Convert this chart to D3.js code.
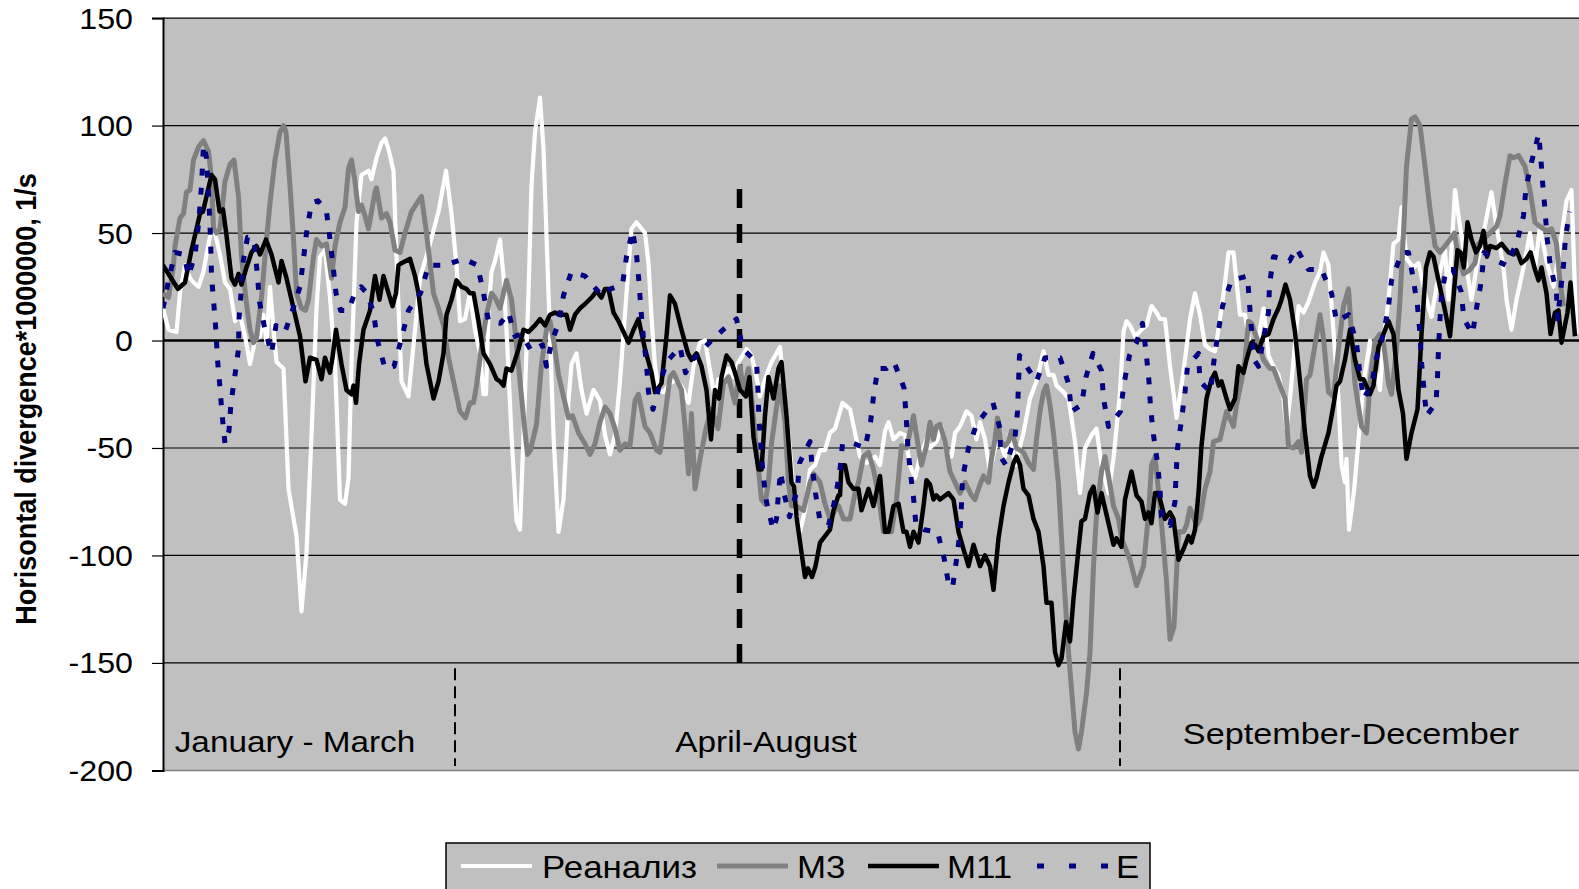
<!DOCTYPE html>
<html><head><meta charset="utf-8">
<script src="https://cdn.jsdelivr.net/npm/d3@7"></script>
<style>body{margin:0;background:#fff}svg{display:block}text{font-family:"Liberation Sans",Arial,sans-serif}</style>
</head><body><svg id="c" width="1579" height="889"></svg>
<script>
// ---- data ----
const yTicks=[150,100,50,0,-50,-100,-150,-200];
const seriesNames=["Реанализ","M3","M11","E"];
const periodLabels=["January - March","April-August","September-December"];
const periodLabelPos=[[26.4,-191.3],[120.6,-191.3],[237.6,-187.8]];
const periodDividers=[58.4,191.4];
const seasonBoundary=115.3;
const yTitle="Horisontal divergence*1000000, 1/s";

const reanalysis=[[0,15],[1.1,5],[2.7,4],[3.4,22],[4.4,35],[5.4,29],[6.1,27],[7.1,25],[8.1,32],[8.7,40],[9.7,52],[10.4,50],[11.4,40],[12.4,27],[13.4,24],[14.4,9],[15.4,12],[16.4,2],[17.4,-11],[18.4,0],[19.4,2],[20.1,12],[20.7,-1],[21.4,25],[22.1,5],[22.7,-10],[24.1,-13],[25.1,-69],[26.7,-91],[27.7,-126],[28.7,-99],[29.7,-44],[30.7,15],[31.4,39],[32.4,42],[33.4,20],[34.4,-10],[35.4,-74],[36.4,-76],[37.1,-64],[37.7,-11],[38.7,55],[39.7,77],[41.1,79],[41.7,75],[42.7,85],[43.7,92],[44.4,94],[45.1,89],[46.1,79],[46.7,39],[47.7,-19],[49.1,-26],[50.4,5],[51.4,29],[53.4,45],[55.1,60],[56.6,79],[57.7,59],[58.7,35],[59.4,9],[60.4,10],[61.4,22],[62.4,5],[63.4,-6],[64.1,-25],[64.6,-25],[65.1,14],[65.7,32],[66.4,37],[67.4,47],[68.1,30],[68.7,5],[69.7,-44],[70.7,-84],[71.4,-88],[72.1,-44],[73.1,22],[73.7,72],[74.4,97],[75.4,113],[76.1,89],[77.1,22],[78.1,-44],[79.1,-89],[80.1,-74],[81.1,-28],[81.7,-11],[82.7,-6],[83.7,-23],[84.7,-34],[86.1,-23],[87.4,-28],[88.4,-44],[89.4,-53],[90.4,-44],[91.4,-19],[92.7,22],[93.7,52],[94.7,55],[96.4,50],[97.1,36],[97.7,11],[98.4,-12],[99.1,-23],[100.1,-24],[101.4,-20],[102.7,-18],[104.1,-23],[105.1,-29],[106.1,-12],[107.4,-1],[108.4,0],[109.7,-18],[110.4,-27],[111.1,-18],[112.1,-17],[113.1,-13],[114.1,-17],[115.1,-10],[116.7,-4],[117.7,-7],[118.7,-17],[119.4,-26],[120.4,-18],[121.7,-10],[123.4,-3],[123.7,-10],[124.4,-29],[125.4,-51],[126.4,-79],[127.4,-89],[128.4,-79],[129.4,-60],[130.4,-58],[131.4,-51],[132.4,-51],[133.4,-43],[134.4,-41],[135.9,-29],[137.4,-32],[138.4,-43],[139.4,-54],[140.7,-57],[142.4,-54],[143.4,-58],[144.4,-42],[145.1,-38],[146.1,-46],[147.4,-43],[148.4,-44],[149.4,-58],[150.4,-64],[151.4,-54],[152.7,-46],[153.4,-50],[154.7,-47],[155.7,-40],[156.7,-52],[157.7,-54],[158.4,-43],[159.4,-40],[160.7,-33],[161.7,-35],[162.7,-46],[163.4,-38],[164.4,-46],[165.4,-61],[166.4,-50],[167.4,-47],[168.4,-54],[169.4,-43],[170.4,-58],[172.1,-43],[173.4,-27],[174.7,-19],[176.1,-5],[177.1,-16],[178.1,-16],[178.7,-21],[180.1,-24],[181.1,-27],[182.4,-47],[183.4,-71],[184.4,-50],[185.7,-44],[186.7,-41],[187.7,-58],[189.1,-71],[190.1,-55],[191.4,-24],[192.1,4],[192.7,9],[193.4,7],[194.4,2],[195.7,5],[196.7,7],[197.7,16],[198.7,13],[199.4,10],[200.4,10],[201.4,-12],[202.4,-30],[202.7,-36],[203.7,-21],[204.6,-5],[205.4,10],[206.4,22],[207.4,12],[208.4,-2],[209.4,-4],[210.4,-5],[211.4,10],[212.4,27],[213.1,41],[214.1,41],[215.4,12],[216.4,12],[217.4,-2],[218.7,-4],[220.1,15],[221.1,-7],[222.1,-12],[223.1,-16],[224.1,-27],[224.7,-41],[225.4,-27],[227.1,16],[228.1,13],[229.1,18],[230.4,27],[231.4,32],[232.1,41],[233.1,35],[234.1,4],[235.1,-27],[235.7,-58],[236.4,-66],[236.7,-55],[237.2,-88],[238.2,-70],[240.1,-20],[241.4,0],[243.4,-23],[244.1,0],[245.1,19],[246.1,45],[247.1,47],[247.7,62],[248.7,38],[250.1,34],[251.1,36],[252.7,19],[253.7,11],[254.7,25],[256.4,42],[257.1,19],[257.7,42],[258.4,70],[259.4,53],[260.7,34],[261.7,19],[262.7,34],[264.1,50],[265.7,69],[266.7,53],[268.1,34],[268.7,19],[269.7,5],[270.7,19],[272.1,34],[273.4,50],[274.4,34],[275.4,53],[276.7,37],[278.1,25],[279.4,44],[280.7,65],[281.7,70],[282.7,3]];

const m3=[[0,22],[1.1,20],[2.1,35],[2.4,44],[3.4,57],[4.1,59],[4.7,69],[5.4,70],[6.1,84],[7.1,90],[8.1,93],[9.1,88],[9.7,75],[10.1,52],[10.7,50],[11.4,52],[12.4,74],[13.4,82],[14.2,84],[15.1,67],[15.7,39],[16.6,19],[17.4,5],[18.1,-1],[18.7,1],[19.7,20],[20.7,47],[21.4,64],[22.4,84],[23.4,97],[24.1,100],[24.6,97],[25.4,72],[26.1,47],[26.7,22],[27.7,15],[28.5,14],[29.1,19],[30.1,39],[30.7,47],[31.7,44],[32.7,45],[33.7,29],[34.4,44],[35.4,55],[36.4,62],[37.1,80],[37.7,84],[38.4,74],[39.1,60],[39.7,63],[40.4,58],[41.1,52],[42.4,69],[42.7,71],[43.7,57],[44.7,59],[45.4,55],[46.4,42],[47.4,41],[48.4,50],[49.7,60],[51.1,65],[51.7,67],[52.7,50],[54.1,22],[55.1,15],[56.1,7],[57.1,-8],[58.1,-19],[59.4,-33],[60.5,-36],[61.4,-29],[62.1,-29],[62.7,-21],[63.7,-3],[64.7,12],[65.7,22],[66.4,20],[67.4,15],[68.7,28],[69.7,19],[70.4,5],[71.4,-19],[72.2,-38],[72.9,-53],[73.5,-51],[74.7,-39],[75.7,-11],[76.7,5],[77.4,9],[78.2,-1],[79.1,-16],[80.1,-26],[81.1,-36],[81.9,-35],[83.1,-43],[84.4,-48],[85.4,-53],[86.4,-48],[87.4,-38],[88.4,-31],[89.4,-34],[90.4,-41],[91.4,-51],[92.4,-48],[93.4,-49],[94.4,-28],[95.1,-25],[96.4,-40],[97.4,-43],[98.7,-51],[99.4,-52],[100.4,-35],[101.4,-17],[102.1,-15],[103.1,-20],[103.7,-23],[104.4,-40],[105.1,-62],[105.7,-34],[106.4,-69],[107.4,-55],[108.7,-40],[109.7,-32],[111,-41],[112.1,-20],[113.1,-17],[114.4,-29],[115.4,-12],[116.1,-23],[117.1,-13],[117.7,-26],[118.7,-51],[119.7,-74],[120.4,-76],[121.1,-66],[121.7,-48],[122.7,-31],[123.4,-21],[124.4,-38],[125.1,-66],[125.7,-77],[126.7,-77],[128.1,-79],[129.4,-66],[130.1,-62],[131.4,-66],[132.4,-76],[133.4,-83],[134.4,-79],[135.1,-77],[136.1,-83],[137.4,-83],[138.4,-71],[139.1,-66],[140.1,-54],[141.1,-52],[142.1,-60],[143.1,-72],[144.1,-89],[145.7,-89],[146.7,-74],[147.7,-49],[148.7,-50],[150.1,-35],[151.1,-50],[151.7,-58],[152.7,-49],[153.4,-38],[154.1,-46],[154.7,-40],[155.4,-39],[156.4,-47],[157.4,-61],[158.4,-66],[159.4,-71],[160.4,-66],[161.7,-72],[162.4,-74],[163.4,-67],[164.1,-63],[165.1,-66],[165.7,-55],[166.4,-46],[166.9,-36],[167.5,-47],[168.4,-49],[169.1,-47],[169.7,-42],[170.7,-50],[172.1,-52],[173.1,-57],[174.1,-60],[174.7,-46],[175.4,-33],[176.1,-24],[176.7,-21],[177.4,-30],[178.1,-43],[179.1,-67],[180.1,-108],[181.1,-145],[182.4,-182],[183.1,-190],[183.7,-182],[184.7,-164],[185.4,-145],[186.1,-105],[186.7,-81],[187.7,-61],[188.4,-54],[189.1,-63],[190.1,-77],[191.1,-83],[191.7,-92],[193.4,-102],[194.7,-114],[196.1,-105],[197.1,-81],[197.7,-58],[198.4,-54],[199.4,-77],[200.7,-112],[201.4,-139],[202.2,-133],[203.1,-89],[204.1,-89],[204.7,-86],[205.4,-78],[206.7,-86],[207.4,-83],[208.4,-69],[209.4,-61],[210.1,-47],[211.4,-46],[212.7,-33],[214.1,-40],[214.7,-30],[215.7,-19],[216.4,-9],[217.1,9],[217.7,8],[219.1,-1],[220.1,-9],[221.4,-13],[222.1,-13],[223.4,-21],[224.4,-27],[225.1,-49],[226.1,-50],[227.1,-47],[227.7,-52],[228.7,-18],[229.4,-16],[230.4,-2],[231.4,12],[232.1,1],[233.1,-24],[234.1,-26],[235.1,-4],[236.1,16],[237.1,24],[237.7,3],[238.4,-20],[239.7,-40],[240.7,-43],[241.4,-20],[242.4,0],[243.4,3],[244.1,-1],[245.1,-20],[245.7,-25],[246.7,-4],[247.4,19],[248.1,50],[248.7,81],[249.7,103],[250.4,104],[251.4,100],[252.4,81],[253.4,61],[254.4,44],[255.4,41],[256.4,44],[257.4,47],[258.3,50],[259.1,38],[260.1,31],[261.4,33],[262.4,36],[263.1,45],[264.1,47],[265.4,50],[266.7,53],[267.4,58],[268.4,73],[269.4,86],[270.1,85],[271.1,86],[272.4,81],[273.4,70],[274.4,55],[275.4,53],[276.7,51],[277.7,52],[278.7,45],[279.4,27],[280.1,16]];

const m11=[[0,35],[3,24],[4.4,27],[5.7,42],[7.4,59],[8,60],[9.7,77],[10.4,75],[11.3,60],[12,61],[12.7,49],[13.7,29],[14.4,26],[15.1,31],[15.7,26],[16.7,34],[17.7,41],[18.7,44],[19.4,40],[20.6,47],[21.7,40],[23.1,27],[23.7,37],[24.7,29],[26.1,15],[27.4,2],[28.5,-19],[29.4,-8],[30.7,-9],[31.7,-18],[32.4,-8],[33.4,-15],[33.9,-8],[34.6,5],[35.7,-11],[36.7,-23],[37.7,-25],[38.1,-21],[38.6,-29],[39.2,-11],[40.1,5],[41.4,14],[42.4,30],[43.3,19],[44.1,30],[45.1,22],[45.9,16],[46.6,22],[47.1,35],[47.7,36],[49.4,38],[50.4,30],[51.1,22],[52.7,-11],[54.1,-27],[55.1,-19],[56.1,-6],[56.7,12],[57.7,19],[58.7,28],[59.7,25],[60.7,24],[61.4,22],[62.1,22],[63.1,9],[64.1,-6],[65.4,-11],[66.7,-18],[67.4,-19],[68.1,-21],[68.7,-13],[69.7,-14],[70.4,-9],[71.1,-4],[72.1,5],[73.1,4],[74.4,7],[75.4,10],[76.4,7],[77.4,12],[78.4,13],[79.4,12],[80.7,12],[81.4,5],[82.4,12],[83.4,15],[84.4,17],[85.7,20],[86.7,23],[87.7,20],[88.4,24],[89.1,24],[90.1,13],[91.1,9],[92.1,4],[93.1,-1],[94.1,5],[95.1,10],[96.4,-4],[97.7,-15],[98.4,-24],[99.7,-20],[100.7,2],[101.4,21],[102.4,17],[103.7,5],[105,-6],[105.7,-9],[106.7,-6],[107.7,-12],[108.7,-23],[109.6,-46],[110.4,-23],[111.2,-27],[111.7,-17],[112.7,-7],[113.7,-10],[114.4,-15],[115.4,-23],[116.6,-26],[117.3,-17],[118.1,-45],[119.1,-60],[119.7,-60],[120.4,-35],[121.1,-17],[122.1,-27],[123.1,-13],[123.7,-10],[124.7,-35],[125.7,-66],[126.2,-68],[126.7,-82],[127.6,-97],[128.4,-110],[129,-106],[129.8,-110],[130.5,-105],[131.4,-94],[132.4,-91],[133.4,-88],[134.1,-79],[135.1,-72],[135.4,-72],[135.7,-58],[136.4,-58],[137.1,-66],[138.1,-69],[139.1,-69],[139.7,-79],[141.1,-69],[142.1,-77],[143.4,-63],[144.4,-89],[145.1,-89],[146.1,-77],[147.1,-76],[148.1,-89],[148.7,-89],[149.4,-96],[150.1,-89],[151.1,-94],[152.1,-77],[152.7,-65],[153.4,-67],[154.1,-74],[154.7,-72],[155.4,-74],[157.1,-71],[158.1,-74],[159.1,-89],[160.1,-97],[161.1,-105],[162.1,-95],[163.4,-105],[164.4,-100],[165.4,-105],[166.1,-116],[167.1,-92],[168.1,-77],[169.1,-66],[170.1,-57],[170.7,-54],[171.4,-58],[172.1,-69],[173.1,-72],[174.1,-83],[175.1,-89],[176.1,-105],[176.7,-122],[177.7,-122],[178.4,-145],[179.1,-151],[179.7,-148],[180.6,-131],[181.4,-140],[182.1,-120],[183.1,-97],[183.7,-84],[184.4,-83],[185.4,-71],[186.1,-68],[186.9,-80],[187.7,-71],[188.7,-81],[190.1,-95],[190.7,-92],[191.7,-96],[192.4,-74],[193.7,-61],[194.7,-72],[195.7,-75],[196.4,-83],[197.1,-80],[197.7,-85],[198.4,-71],[199.1,-71],[200.4,-83],[201.4,-80],[202.1,-83],[203.1,-102],[204.1,-97],[205.1,-91],[205.7,-94],[206.4,-88],[207.1,-71],[207.7,-49],[208.7,-27],[209.7,-18],[210.4,-15],[211.1,-21],[211.7,-19],[212.7,-27],[213.4,-32],[214.4,-27],[215.1,-12],[216.1,-15],[216.7,-9],[217.7,-1],[218.4,-2],[219.1,-5],[220.1,2],[221.1,3],[222.1,10],[223.1,15],[223.7,19],[224.5,26],[225.4,19],[226.4,4],[227.4,-19],[228.4,-43],[229.4,-63],[230.1,-68],[230.7,-64],[231.7,-54],[233.1,-43],[234.1,-30],[234.7,-21],[235.4,-19],[236.4,-9],[237.4,5],[238.4,-9],[239.4,-18],[240.1,-18],[241.4,-25],[242.1,-21],[243.1,-3],[244.1,3],[245.1,9],[246.1,3],[247.1,-23],[248,-34],[248.7,-55],[249.7,-43],[250.9,-32],[251.7,3],[252.6,34],[253.4,41],[254.1,39],[255.1,28],[256.4,14],[257.4,2],[258.1,20],[258.9,42],[259.5,41],[260.2,34],[260.9,55],[261.7,47],[262.6,41],[263.4,44],[264.1,51],[264.8,39],[265.4,44],[266.7,43],[267.7,45],[269.1,41],[270.1,40],[270.7,42],[271.7,36],[272.7,38],[273.5,41],[274.4,33],[275.1,28],[275.7,34],[276.7,22],[277.5,3],[278.4,13],[279.1,14],[279.7,-1],[280.9,13],[281.5,27],[282.4,2]];

const e=[[0,15],[1.1,28],[2.4,41],[4.2,40],[5.1,30],[6.4,40],[7.1,54],[7.7,72],[8.1,91],[8.7,85],[9.1,68],[9.5,48],[9.7,30],[10.2,16],[10.6,4],[10.9,-9],[11.4,-22],[11.8,-34],[12.4,-48],[13.2,-42],[13.6,-29],[14.4,-16],[15.1,-4],[15.2,10],[15.6,22],[15.9,35],[16.9,48],[18.2,47],[18.9,30],[19.3,18],[20.4,5],[21.7,-6],[22.6,7],[24.4,4],[25.6,12],[27.4,25],[28.1,38],[28.7,50],[29.7,64],[31,65],[32.7,60],[33.4,47],[34,35],[34.6,22],[35.5,14],[37.1,14],[38.5,23],[39.6,25],[40.8,22],[42.1,13],[42.9,0],[44.4,-13],[46.2,-12],[47.7,1],[49.1,14],[51.5,22],[53.1,35],[56.4,35],[60.1,38],[62.9,35],[64.1,22],[65.1,9],[67.5,8],[69.1,13],[70.4,2],[71.7,3],[73.7,-5],[75.9,-2],[76.7,-12],[77.7,-1],[79.1,8],[80.1,21],[81.7,32],[84.4,30],[87.7,21],[89.5,24],[91.9,26],[92.7,39],[93.9,51],[94.7,40],[95.2,27],[95.6,14],[96.1,1],[96.7,-11],[97.1,-24],[98,-32],[99.4,-20],[100.7,-10],[103.4,-3],[104.5,-15],[105.9,-9],[109.7,0],[112.5,6],[114.7,10],[116,-4],[118.7,-10],[119,-23],[119.2,-37],[119.6,-50],[120,-62],[120.7,-75],[122,-88],[122.7,-83],[123.1,-71],[123.5,-61],[124.3,-72],[125.3,-82],[126.9,-69],[127.3,-57],[129.4,-47],[129.8,-58],[130.5,-71],[131.4,-84],[133.1,-86],[134.5,-73],[135.4,-60],[135.9,-48],[138.2,-48],[140.4,-50],[141.5,-38],[142.2,-24],[143,-13],[144.7,-13],[146.2,-10],[148.2,-22],[148.6,-34],[148.9,-47],[149.4,-60],[150.1,-73],[150.6,-86],[152.2,-88],[154.9,-89],[156.2,-101],[157.1,-113],[157.9,-115],[158.7,-102],[159.4,-89],[159.7,-76],[159.9,-64],[161.1,-50],[162.7,-39],[166,-29],[167.4,-41],[167.5,-54],[168.6,-58],[170.4,-45],[170.9,-33],[171.1,-20],[171.3,-7],[172.7,-12],[174.7,-19],[176.4,-8],[179.4,-8],[181.1,-20],[181.7,-33],[183.7,-30],[184.6,-17],[186,-6],[187.7,-14],[188.1,-27],[189.1,-40],[191.5,-33],[192.2,-20],[193.3,-7],[194.7,-1],[195.9,8],[196.6,-5],[197.2,-19],[197.5,-31],[198.1,-44],[198.9,-57],[199.4,-69],[199.7,-82],[201.4,-86],[202.4,-75],[202.6,-63],[202.9,-50],[203.7,-37],[204.4,-24],[204.9,-12],[207.1,-6],[207.4,-19],[209.5,-24],[210.1,-11],[210.9,2],[211.9,16],[213.7,28],[216.9,30],[217.3,17],[217.7,5],[218.2,-9],[219.1,-12],[220.1,1],[221.1,13],[221.3,26],[222.1,39],[225.3,37],[226.7,43],[229.1,33],[231.7,33],[233.7,22],[234.7,9],[237.1,12],[238.7,-1],[239.3,-14],[240.1,-27],[241.7,-21],[242.7,-8],[244.1,3],[245.1,16],[245.7,28],[247.8,41],[249.1,41],[250.1,28],[250.9,16],[251.4,3],[251.7,-10],[252.2,-23],[252.7,-35],[254.6,-29],[254.9,-17],[255.1,-4],[255.4,10],[255.7,21],[256.6,33],[258,33],[259.6,23],[260.2,10],[261.9,3],[262.7,15],[263.7,28],[264.2,41],[266,38],[268.6,35],[270.7,45],[272.1,58],[272.6,71],[273.7,83],[274.5,90],[275.1,96],[275.5,87],[275.9,74],[276.4,61],[276.8,48],[277.4,36],[278.7,22],[278.9,10],[280.1,35],[280.5,48],[281.3,60]];

// ---- chart ----
const svg=d3.select("#c");
const L=163,R=1579,T=18.1,B=770.4;
const x=d3.scaleLinear().domain([0,283]).range([L,1578]);
const y=d3.scaleLinear().domain([-200,150]).range([B,T]);
const SX=1.11;

svg.append("rect").attr("x",L).attr("y",T).attr("width",R-L).attr("height",B-T).attr("fill","#c0c0c0");
svg.append("defs").append("clipPath").attr("id","pc").append("rect")
  .attr("x",L).attr("y",T).attr("width",R-L).attr("height",B-T);

// gridlines
svg.append("g").selectAll("line").data(yTicks).join("line")
  .attr("x1",L).attr("x2",R).attr("y1",d=>y(d)).attr("y2",d=>y(d))
  .attr("stroke",d=>d===-200?"#808080":"#000")
  .attr("stroke-width",d=>d===0?2.6:(d===-200?1.5:1.2));

// y axis
const ax=svg.append("g").attr("transform",`translate(${L},0)`)
  .call(d3.axisLeft(y).tickValues(yTicks).tickSize(11).tickPadding(0).tickFormat(d=>String(d)));
ax.select(".domain").attr("stroke","#000").attr("stroke-width",2);
ax.selectAll(".tick line").attr("stroke","#000").attr("stroke-width",1.2);
ax.selectAll(".tick text").attr("x",0).attr("dy",null)
  .attr("transform",`translate(-30,10) scale(${SX},1)`)
  .style("font-size","29px").attr("fill","#000");

// period dividers
const gD=svg.append("g");
gD.selectAll("line").data(periodDividers).join("line")
  .attr("x1",d=>x(d)).attr("x2",d=>x(d)).attr("y1",y(-152.5)).attr("y2",y(-198))
  .attr("stroke","#000").attr("stroke-width",2).attr("stroke-dasharray","12,6");
svg.append("line").attr("x1",x(seasonBoundary)).attr("x2",x(seasonBoundary))
  .attr("y1",y(70.5)).attr("y2",y(-155.5)).attr("stroke","#000").attr("stroke-width",5.5)
  .attr("stroke-dasharray","19,16");

// period labels
svg.append("g").selectAll("text").data(periodLabels).join("text")
  .attr("transform",(d,i)=>`translate(${x(periodLabelPos[i][0])},${y(periodLabelPos[i][1])}) scale(${i===2?1.14:SX},1)`)
  .attr("text-anchor","middle").style("font-size","30px").attr("fill","#000").text(d=>d);

// series
const styles=[
  {c:"#ffffff",w:4.2,dash:null},
  {c:"#808080",w:5,dash:null},
  {c:"#000000",w:4.5,dash:null},
  {c:"#000080",w:5,dash:"7,12"}];
const data=[reanalysis,m3,m11,e];
const line=d3.line().x(d=>x(d[0])).y(d=>y(d[1]));
const gS=svg.append("g").attr("clip-path","url(#pc)");
data.forEach((s,i)=>{
  gS.append("path").attr("d",line(s)).attr("fill","none")
    .attr("stroke",styles[i].c).attr("stroke-width",styles[i].w)
    .attr("stroke-linejoin","round").attr("stroke-dasharray",styles[i].dash);
});

// y title
svg.append("text").attr("transform",`translate(36,399) scale(1.1,1) rotate(-90)`)
  .attr("text-anchor","middle").style("font-size","27px").style("font-weight","bold")
  .attr("fill","#000").text(yTitle);

// legend
const lg=svg.append("g");
lg.append("rect").attr("x",446).attr("y",843).attr("width",704).attr("height",60)
  .attr("fill","#c0c0c0").attr("stroke","#000").attr("stroke-width",1.5);
const legX=[461,717,868,1037];
const legText=[542,797,947,1116];
seriesNames.forEach((n,i)=>{
  lg.append("line").attr("x1",legX[i]).attr("x2",legX[i]+71).attr("y1",866).attr("y2",866)
    .attr("stroke",styles[i].c).attr("stroke-width",styles[i].w)
    .attr("stroke-dasharray",i===3?"7,25":null);
  lg.append("text").attr("transform",`translate(${legText[i]},878) scale(1.09,1)`)
    .style("font-size","32px").attr("fill","#000").text(n);
});
</script></body></html>
